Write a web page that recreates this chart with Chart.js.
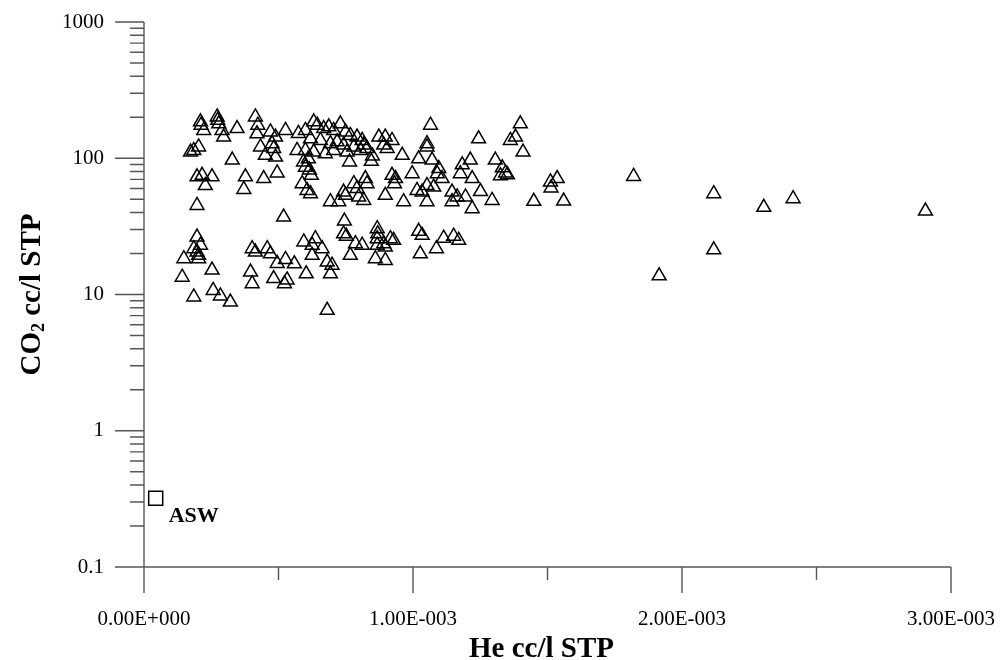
<!DOCTYPE html>
<html>
<head>
<meta charset="utf-8">
<script src="https://cdn.jsdelivr.net/npm/chart.js@4.4.1/dist/chart.umd.min.js"></script>
<style>
  html, body { margin: 0; padding: 0; background: #fff; }
</style>
</head>
<body>
<canvas id="chartCanvas" width="1002" height="660"></canvas>
<script>
// He (cc/l STP) and CO2 (cc/l STP), split by band
const heUpper = [0.210e-3, 0.212e-3, 0.222e-3, 0.272e-3, 0.274e-3, 0.278e-3, 0.290e-3, 0.296e-3, 0.346e-3, 0.414e-3,
  0.423e-3, 0.420e-3, 0.470e-3, 0.489e-3, 0.526e-3, 0.574e-3, 0.173e-3, 0.185e-3, 0.203e-3, 0.328e-3,
  0.433e-3, 0.451e-3, 0.476e-3, 0.482e-3, 0.489e-3, 0.569e-3, 0.600e-3, 0.631e-3, 0.644e-3, 0.668e-3,
  0.687e-3, 0.705e-3, 0.730e-3, 0.749e-3, 0.767e-3, 0.792e-3, 0.811e-3, 0.619e-3, 0.656e-3, 0.693e-3,
  0.718e-3, 0.742e-3, 0.780e-3, 0.817e-3, 0.829e-3, 0.600e-3, 0.631e-3, 0.674e-3, 0.705e-3, 0.755e-3,
  0.805e-3, 0.611e-3, 0.593e-3, 0.600e-3, 0.615e-3, 0.622e-3, 0.764e-3, 0.849e-3, 0.845e-3, 0.873e-3,
  0.897e-3, 0.922e-3, 0.891e-3, 0.904e-3, 0.960e-3, 1.065e-3, 1.052e-3, 1.052e-3, 1.021e-3, 1.071e-3,
  1.244e-3, 1.399e-3, 1.381e-3, 1.362e-3, 1.409e-3];
const co2Upper = [185, 175, 160, 201, 190, 179, 160, 143, 165, 201,
  175, 151, 156, 143, 160, 152, 111, 114, 121, 97,
  121, 105, 128, 118, 102, 114, 160, 185, 175, 165,
  170, 160, 179, 156, 147, 143, 135, 139, 135, 128,
  132, 125, 121, 125, 118, 114, 111, 108, 114, 111,
  114, 99, 94, 86, 82, 75, 94, 104, 95, 143,
  143, 135, 125, 118, 105, 175, 128, 121, 99, 97,
  139, 179, 143, 135, 111];

const heMiddle = [0.197e-3, 0.216e-3, 0.253e-3, 0.228e-3, 0.377e-3, 0.371e-3, 0.445e-3, 0.495e-3, 0.588e-3, 0.606e-3,
  0.619e-3, 0.693e-3, 0.724e-3, 0.742e-3, 0.749e-3, 0.780e-3, 0.792e-3, 0.823e-3, 0.829e-3, 0.798e-3,
  0.817e-3, 0.897e-3, 0.922e-3, 0.935e-3, 0.931e-3, 0.997e-3, 1.096e-3, 1.090e-3, 1.108e-3, 1.183e-3,
  1.213e-3, 1.176e-3, 1.220e-3, 1.306e-3, 1.332e-3, 1.344e-3, 1.325e-3, 1.351e-3, 1.015e-3, 1.034e-3,
  1.052e-3, 1.077e-3, 0.965e-3, 1.052e-3, 1.145e-3, 1.164e-3, 1.195e-3, 1.145e-3, 1.251e-3, 1.294e-3,
  1.220e-3, 1.449e-3, 1.511e-3, 1.536e-3, 1.513e-3, 1.560e-3, 1.820e-3, 2.118e-3, 2.304e-3, 2.413e-3,
  2.905e-3, 0.197e-3, 0.519e-3, 0.745e-3];
const co2Middle = [73, 75, 73, 63, 73, 59, 71, 78, 65, 58,
  55, 48, 48, 56.5, 53.5, 65, 60, 71, 65, 52,
  49, 53.5, 75, 71, 65, 77, 84, 77, 71, 89.5,
  97, 77, 71, 97, 85, 78, 74.5, 75.7, 58, 56.5,
  63, 61.5, 48, 48, 56.5, 52, 52, 48, 57, 49,
  42.6, 48.3, 67, 71, 60.5, 48.5, 73.5, 55, 43.6, 50.5,
  41, 45, 37, 34.6];

const heLower = [0.742e-3, 0.752e-3, 0.197e-3, 0.210e-3, 0.185e-3, 0.197e-3, 0.203e-3, 0.148e-3, 0.203e-3, 0.253e-3,
  0.142e-3, 0.185e-3, 0.257e-3, 0.284e-3, 0.321e-3, 0.402e-3, 0.414e-3, 0.458e-3, 0.470e-3, 0.495e-3,
  0.526e-3, 0.559e-3, 0.396e-3, 0.402e-3, 0.482e-3, 0.532e-3, 0.522e-3, 0.603e-3, 0.594e-3, 0.625e-3,
  0.637e-3, 0.662e-3, 0.625e-3, 0.681e-3, 0.699e-3, 0.693e-3, 0.681e-3, 0.786e-3, 0.811e-3, 0.767e-3,
  0.867e-3, 0.869e-3, 0.867e-3, 0.867e-3, 0.891e-3, 0.916e-3, 0.928e-3, 0.897e-3, 0.860e-3, 0.897e-3,
  1.021e-3, 1.034e-3, 1.027e-3, 1.087e-3, 1.114e-3, 1.151e-3, 1.170e-3, 2.118e-3, 1.915e-3];
const co2Lower = [27.9, 26.8, 26.4, 23, 21.7, 20.5, 19.4, 18.3, 18.3, 15.1,
  13.4, 9.6, 10.7, 9.75, 8.8, 21.7, 20.5, 21.7, 19.9, 16.9,
  18.1, 16.8, 14.6, 12, 13.1, 12.8, 12, 14.2, 24.3, 23,
  25.7, 21.7, 19.4, 17.3, 16.4, 14.2, 7.66, 23.6, 23, 19.4,
  30.4, 27.9, 25.7, 23, 23.6, 25.7, 25, 22.3, 18.3, 17.8,
  29.1, 27.2, 19.9, 21.7, 25.9, 26.8, 25, 21.3, 13.7];

// air saturated water reference
const aswHe = [0.0435e-3];
const aswCo2 = [0.319];
const aswLabel = 'ASW';

// axes
const xTickValues = [0, 0.5e-3, 1e-3, 1.5e-3, 2e-3, 2.5e-3, 3e-3];
const xTickLabels = ['0.00E+000', '1.00E-003', '2.00E-003', '3.00E-003'];
const yTickValues = [0.1, 1, 10, 100, 1000];
const yTickLabels = ['0.1', '1', '10', '100', '1000'];
const xTitle = 'He cc/l STP';

const FONT = '"Liberation Serif", "Times New Roman", serif';

const yMinorValues = [];
yTickValues.slice(0, -1).forEach((d) => {
  for (let k = 2; k <= 9; k++) yMinorValues.push(d * k);
});

function toPoints(xs, ys) {
  return xs.map((x, i) => ({ x, y: ys[i] }));
}

const samplePoints = [
  ...toPoints(heUpper, co2Upper),
  ...toPoints(heMiddle, co2Middle),
  ...toPoints(heLower, co2Lower),
];

// axis lines, tick marks, titles and the ASW note
const axesPlugin = {
  id: 'axesPlugin',
  beforeDatasetsDraw(chart) {
    const { ctx, chartArea: a, scales: { x, y } } = chart;
    ctx.save();
    ctx.strokeStyle = '#555';
    ctx.lineWidth = 1.4;
    ctx.beginPath();
    ctx.moveTo(a.left, a.top);
    ctx.lineTo(a.left, a.bottom);
    ctx.lineTo(a.right, a.bottom);
    yTickValues.forEach((v) => {
      const py = y.getPixelForValue(v);
      ctx.moveTo(a.left - 29, py);
      ctx.lineTo(a.left, py);
    });
    yMinorValues.forEach((v) => {
      const py = y.getPixelForValue(v);
      ctx.moveTo(a.left - 14, py);
      ctx.lineTo(a.left, py);
    });
    xTickValues.forEach((v, i) => {
      const px = x.getPixelForValue(v);
      ctx.moveTo(px, a.bottom);
      ctx.lineTo(px, a.bottom + (i % 2 ? 13 : 26));
    });
    ctx.stroke();
    ctx.restore();
  },
  afterDraw(chart) {
    const { ctx, chartArea: a, scales: { x, y } } = chart;
    ctx.save();
    ctx.fillStyle = '#000';

    // x title
    ctx.font = 'bold 29px ' + FONT;
    ctx.textAlign = 'center';
    ctx.textBaseline = 'alphabetic';
    ctx.fillText(xTitle, (a.left + a.right) / 2 - 6, 657);

    // y title with subscript
    ctx.translate(30, (a.top + a.bottom) / 2);
    ctx.rotate(-Math.PI / 2);
    ctx.textAlign = 'left';
    const big = 'bold 29px ' + FONT;
    const small = 'bold 18px ' + FONT;
    ctx.font = big;
    const w1 = ctx.measureText('CO').width;
    const w3 = ctx.measureText(' cc/l STP').width;
    ctx.font = small;
    const w2 = ctx.measureText('2').width;
    let sx = -(w1 + w2 + w3) / 2;
    ctx.font = big;
    ctx.fillText('CO', sx, 10);
    ctx.font = small;
    ctx.fillText('2', sx + w1, 14);
    ctx.font = big;
    ctx.fillText(' cc/l STP', sx + w1 + w2, 10);
    ctx.restore();

    // ASW label
    ctx.save();
    ctx.fillStyle = '#000';
    ctx.font = 'bold 22px ' + FONT;
    ctx.textAlign = 'left';
    ctx.textBaseline = 'alphabetic';
    const px = x.getPixelForValue(aswHe[0]);
    const py = y.getPixelForValue(aswCo2[0]);
    ctx.fillText(aswLabel, px + 13, py + 24);
    ctx.restore();
  },
};

new Chart(document.getElementById('chartCanvas'), {
  type: 'scatter',
  data: {
    datasets: [
      {
        label: 'Samples',
        data: samplePoints,
        pointStyle: 'triangle',
        pointRadius: 8,
        pointHoverRadius: 8,
        borderColor: '#000',
        backgroundColor: 'rgba(0,0,0,0)',
        borderWidth: 1.5,
      },
      {
        label: aswLabel,
        data: toPoints(aswHe, aswCo2),
        pointStyle: 'rect',
        pointRadius: 9.9,
        pointHoverRadius: 9.9,
        borderColor: '#000',
        backgroundColor: 'rgba(0,0,0,0)',
        borderWidth: 1.5,
      },
    ],
  },
  options: {
    responsive: false,
    animation: false,
    layout: { padding: { top: 22, right: 51, left: 0, bottom: 0 } },
    plugins: {
      legend: { display: false },
      tooltip: { enabled: false },
    },
    scales: {
      x: {
        type: 'linear',
        min: 0,
        max: 3e-3,
        // grid hidden; tickLength only pushes the labels down
        grid: { display: false, drawTicks: true, tickLength: 40 },
        border: { display: false },
        afterBuildTicks: (scale) => {
          scale.ticks = xTickValues.map((v) => ({ value: v }));
        },
        afterFit: (scale) => { scale.height = 93; },
        ticks: {
          autoSkip: false,
          maxRotation: 0,
          padding: 0,
          color: '#000',
          font: { family: FONT, size: 21 },
          callback: (value, index) => (index % 2 === 0 ? xTickLabels[index / 2] : ''),
        },
      },
      y: {
        type: 'logarithmic',
        min: 0.1,
        max: 1000,
        grid: { display: false, drawTicks: true, tickLength: 40 },
        border: { display: false },
        afterBuildTicks: (scale) => {
          scale.ticks = yTickValues.map((v) => ({ value: v }));
        },
        afterFit: (scale) => { scale.width = 144; },
        ticks: {
          autoSkip: false,
          padding: 0,
          color: '#000',
          font: { family: FONT, size: 21 },
          callback: (value, index) => yTickLabels[index],
        },
      },
    },
  },
  plugins: [axesPlugin],
});
</script>
</body>
</html>
